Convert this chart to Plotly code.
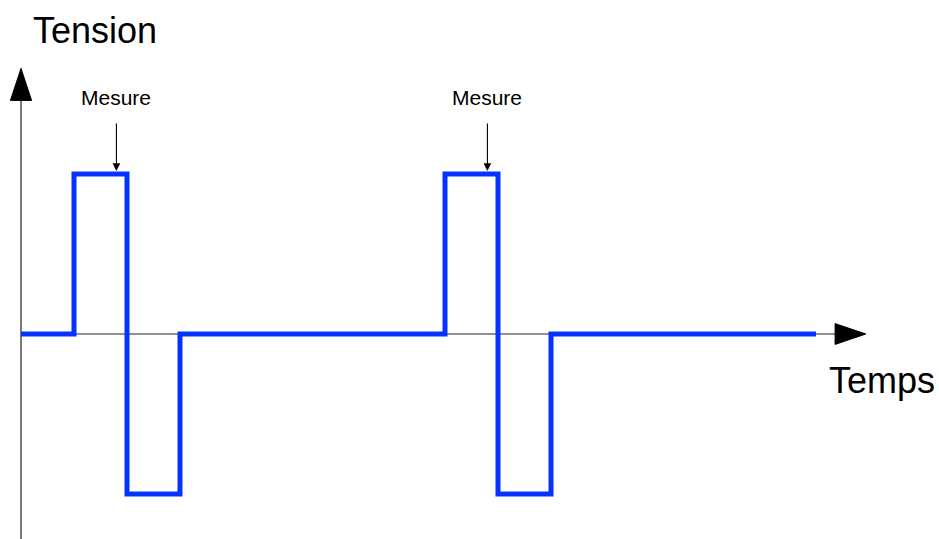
import plotly.graph_objects as go

# waveform: times (pulse-width units) and voltage levels, held with step "hv"
temps = [0, 1, 2, 3, 8, 9, 10, 15]
tension = [0, 1, -1, 0, 1, -1, 0, 0]

# where the measurement is taken on each pulse
mesure_t = [1.8, 8.8]
mesure_v = [1, 1]
mesure_label = "Mesure"

x_label = "Temps"
y_label = "Tension"

fig = go.Figure()
fig.add_trace(go.Scatter(x=temps, y=tension, mode="lines", line_shape="hv",
                         line=dict(color="#0433ff", width=5), hoverinfo="skip"))

axis_col = "#222222"
# axes drawn as arrows
fig.add_shape(type="line", x0=0, x1=0, y0=-1.35, y1=1.47, layer="below",
              line=dict(color=axis_col, width=1.2))
fig.add_shape(type="path", path="M -0.2,1.46 L 0.2,1.46 L 0,1.66 Z",
              fillcolor="black", line=dict(color="black", width=1))
fig.add_shape(type="line", x0=0, x1=15.4, y0=0, y1=0, layer="below",
              line=dict(color=axis_col, width=1.2))
fig.add_shape(type="path", path="M 15.36,0.065 L 15.36,-0.065 L 15.94,0 Z",
              fillcolor="black", line=dict(color="black", width=1))

for t, v in zip(mesure_t, mesure_v):
    fig.add_annotation(x=t, y=v, ax=0, ay=-52, text="", showarrow=True,
                       arrowhead=2, arrowsize=1.4, arrowwidth=1.1,
                       arrowcolor="black", standoff=3)
    fig.add_annotation(x=t, y=1.48, text=mesure_label, showarrow=False,
                       font=dict(size=21, color="black"))

fig.add_annotation(x=1.4, y=1.9, text=y_label, showarrow=False,
                   font=dict(size=36, color="black"))
fig.add_annotation(x=16.25, y=-0.29, text=x_label, showarrow=False,
                   font=dict(size=36, color="black"))

fig.update_xaxes(range=[-21 / 53, 918 / 53], visible=False, fixedrange=True)
fig.update_yaxes(range=[-205 / 160, 334 / 160], visible=False, fixedrange=True)
fig.update_layout(width=939, height=539, showlegend=False,
                  margin=dict(l=0, r=0, t=0, b=0),
                  plot_bgcolor="white", paper_bgcolor="white",
                  font=dict(family="Liberation Sans, Arial, sans-serif"))

fig.write_html("out.html", config=dict(displayModeBar=False),
               post_script="document.body.style.margin='0';document.body.style.overflow='hidden';")
